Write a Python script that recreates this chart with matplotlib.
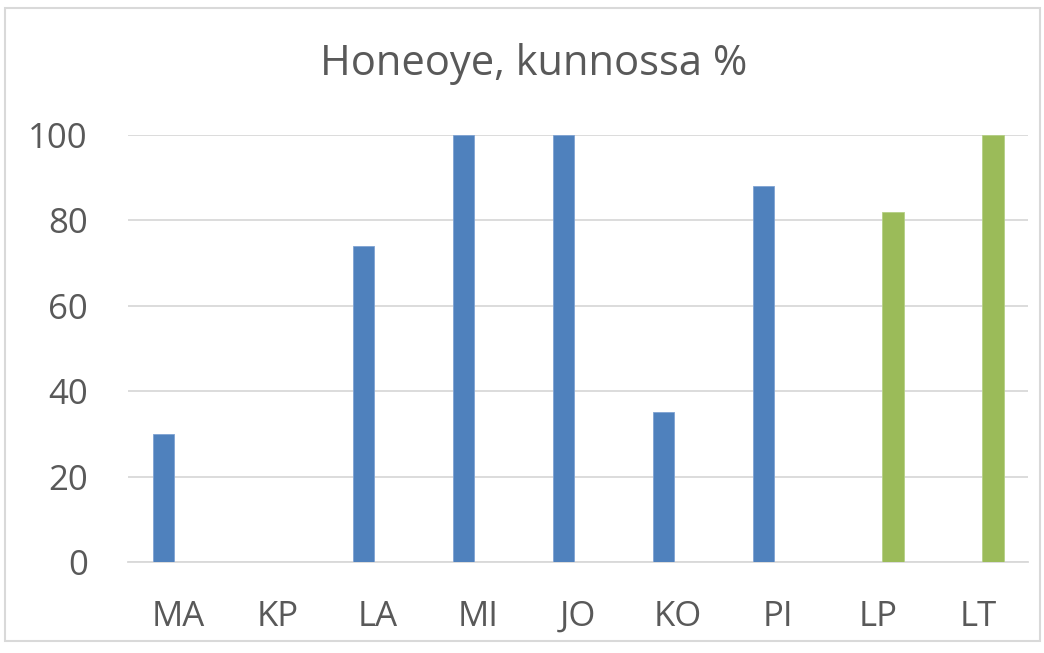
import matplotlib.pyplot as plt
from matplotlib.patches import Rectangle
import numpy as np

categories = ['MA', 'KP', 'LA', 'MI', 'JO', 'KO', 'PI', 'LP', 'LT']
# blue series (first 7 sites), green series (last 2)
blue_vals = [30, np.nan, 74, 100, 100, 35, 88, np.nan, np.nan]
green_vals = [np.nan] * 7 + [82, 100]
y_ticks = [0, 20, 40, 60, 80, 100]

blue = '#4F81BD'
green = '#9BBB59'
text_col = '#595959'
grid_col = '#D9D9D9'

plt.rcParams['font.family'] = ['Open Sans', 'DejaVu Sans']

fig = plt.figure(figsize=(10.44, 6.53), dpi=100)
ax = fig.add_axes([128 / 1044, 1 - 562 / 653, 900 / 1044, (562 - 134.7) / 653])

x = np.arange(len(categories))
bar_w = 0.215
ax.bar(x - 0.145, blue_vals, width=bar_w, color=blue, edgecolor='#7FA3D3', linewidth=0.6, zorder=3)
ax.bar(x + 0.15, green_vals, width=bar_w, color=green, edgecolor='#B5CF85', linewidth=0.6, zorder=3)

ax.set_xlim(-0.5, len(categories) - 0.5)
ax.set_ylim(0, 100)
ax.set_yticks(y_ticks)
ax.set_xticks(x)
ax.set_xticklabels(categories)
ax.tick_params(axis='both', length=0, labelsize=25, colors=text_col)
ax.tick_params(axis='x', pad=27)
ax.tick_params(axis='y', pad=29)
ax.yaxis.grid(True, color=grid_col, linewidth=1.3, zorder=0)
for s in ['top', 'right', 'left']:
    ax.spines[s].set_visible(False)
ax.spines['bottom'].set_color(grid_col)
ax.spines['bottom'].set_linewidth(1.3)

fig.text(534 / 1044, 1 - 64 / 653, 'Honeoye, kunnossa %', ha='center', va='center',
         fontsize=30, color=text_col)

fig.patches.append(Rectangle((5 / 1044, 1 - 641 / 653), 1035 / 1044, 633 / 653,
                             transform=fig.transFigure, fill=False,
                             edgecolor='#D9D9D9', linewidth=1.5))

plt.savefig('out.png', dpi=100)
plt.close('all')
